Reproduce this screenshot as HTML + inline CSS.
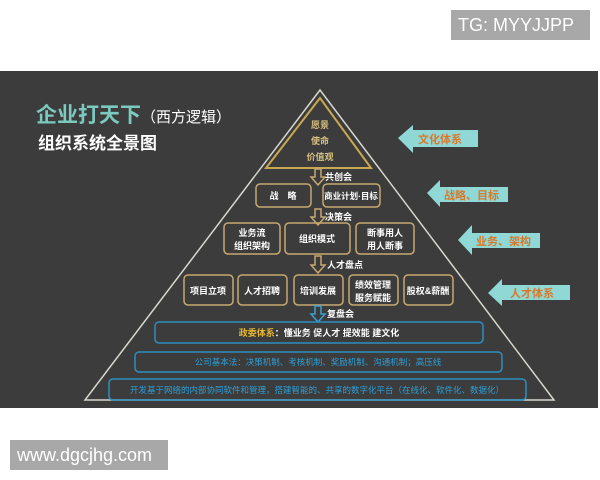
<!DOCTYPE html>
<html><head><meta charset="utf-8"><style>
body{margin:0;width:600px;height:480px;background:#fff;overflow:hidden;position:relative;font-family:"Liberation Sans","Noto Sans CJK SC",sans-serif}
.tag{position:absolute;background:#a8a8a8;color:#fff;font-size:18px;line-height:30px;padding-left:7px;box-sizing:border-box}
</style></head><body>
<div class="tag" style="left:451px;top:10px;width:139px;height:30px">TG: MYYJJPP</div>
<div class="tag" style="left:10px;top:440px;width:158px;height:30px">www.dgcjhg.com</div>
<svg style="position:absolute;left:0;top:0" width="600" height="480" font-family="Liberation Sans, Noto Sans CJK SC, sans-serif">
<rect x="0" y="71" width="598" height="337" fill="#3c3c3c"/>
<text x="36" y="122" font-size="21" font-weight="bold" fill="#7cc9bf">企业打天下<tspan fill="#fff" font-size="15" font-weight="normal">（西方逻辑）</tspan></text>
<text x="38" y="149" font-size="17" font-weight="bold" fill="#fff">组织系统全景图</text>
<polygon points="320,90 85,400 554,400" fill="none" stroke="#d8d8d0" stroke-width="1.5"/>
<polygon points="320,98 266,168 371,168" fill="none" stroke="#c8a850" stroke-width="2"/>
<g font-size="9" fill="#d8c080" text-anchor="middle" font-weight="bold">
<text x="320" y="128">愿景</text><text x="320" y="144">使命</text><text x="320" y="160">价值观</text></g>
<g fill="none" stroke="#c8a870" stroke-width="1.5">
<path d="M315,169 v8 h-4 l7,8 l7,-8 h-4 v-8z"/>
<path d="M315,209 v8 h-4 l7,8 l7,-8 h-4 v-8z"/>
<path d="M315,256 v9 h-4 l7,8 l7,-8 h-4 v-9z"/>
<rect x="256" y="184" width="55" height="23" rx="4"/><rect x="323" y="184" width="57" height="23" rx="4"/>
<rect x="224" y="223" width="56" height="31" rx="4"/><rect x="285" y="223" width="65" height="31" rx="4"/><rect x="356" y="223" width="58" height="31" rx="4"/>
<rect x="184" y="275" width="49" height="30" rx="4"/><rect x="238" y="275" width="49" height="30" rx="4"/><rect x="294" y="275" width="49" height="30" rx="4"/><rect x="349" y="275" width="49" height="30" rx="4"/><rect x="404" y="275" width="49" height="30" rx="4"/>
</g>
<path d="M315,306 v8 h-4 l7,8 l7,-8 h-4 v-8z" fill="none" stroke="#3aa0d0" stroke-width="1.5"/>
<g fill="none" stroke="#2d8fc0" stroke-width="1.5">
<rect x="155" y="322" width="328" height="21" rx="4"/><rect x="135" y="352" width="367" height="20" rx="4"/><rect x="109" y="379" width="417" height="21" rx="4"/></g>
<g font-size="9" fill="#fff" font-weight="bold">
<text x="325" y="180">共创会</text><text x="325" y="220">决策会</text><text x="327" y="268">人才盘点</text><text x="327" y="317">复盘会</text></g>
<g font-size="9" fill="#fff" font-weight="bold" text-anchor="middle">
<text x="283" y="199">战　略</text><text x="351" y="199" font-size="8.5">商业计划·目标</text>
<text x="252" y="236">业务流</text><text x="252" y="249">组织架构</text><text x="317" y="242">组织模式</text><text x="385" y="236">断事用人</text><text x="385" y="249">用人断事</text>
<text x="208" y="294">项目立项</text><text x="262" y="294">人才招聘</text><text x="318" y="294">培训发展</text><text x="373" y="288">绩效管理</text><text x="373" y="301">服务赋能</text><text x="428" y="294">股权&amp;薪酬</text>
<text x="319" y="336"><tspan fill="#e8b830">政委体系</tspan>：懂业务  促人才  提效能   建文化</text></g>
<g font-size="8.5" fill="#2d9fd8" text-anchor="middle">
<text x="318" y="365">公司基本法：决策机制、考核机制、奖励机制、沟通机制；高压线</text>
<text x="317" y="393">开发基于网络的内部协同软件和管理，搭建智能的、共享的数字化平台（在线化、软件化、数据化）</text></g>
<g fill="#8fd8d6">
<polygon points="398,138 413,125 413,130 478,130 478,147 413,147 413,153"/>
<polygon points="427,193 440,180 440,187 508,187 508,202 440,202 440,207"/>
<polygon points="458,240 472,225 472,233 540,233 540,248 472,248 472,255"/>
<polygon points="488,293 502,279 502,285 570,285 570,300 502,300 502,306"/>
</g>
<g font-size="11" fill="#d9782a" font-weight="bold">
<text x="418" y="143">文化体系</text><text x="444" y="199">战略、目标</text><text x="476" y="245">业务、架构</text><text x="510" y="297">人才体系</text></g>
</svg>
</body></html>
